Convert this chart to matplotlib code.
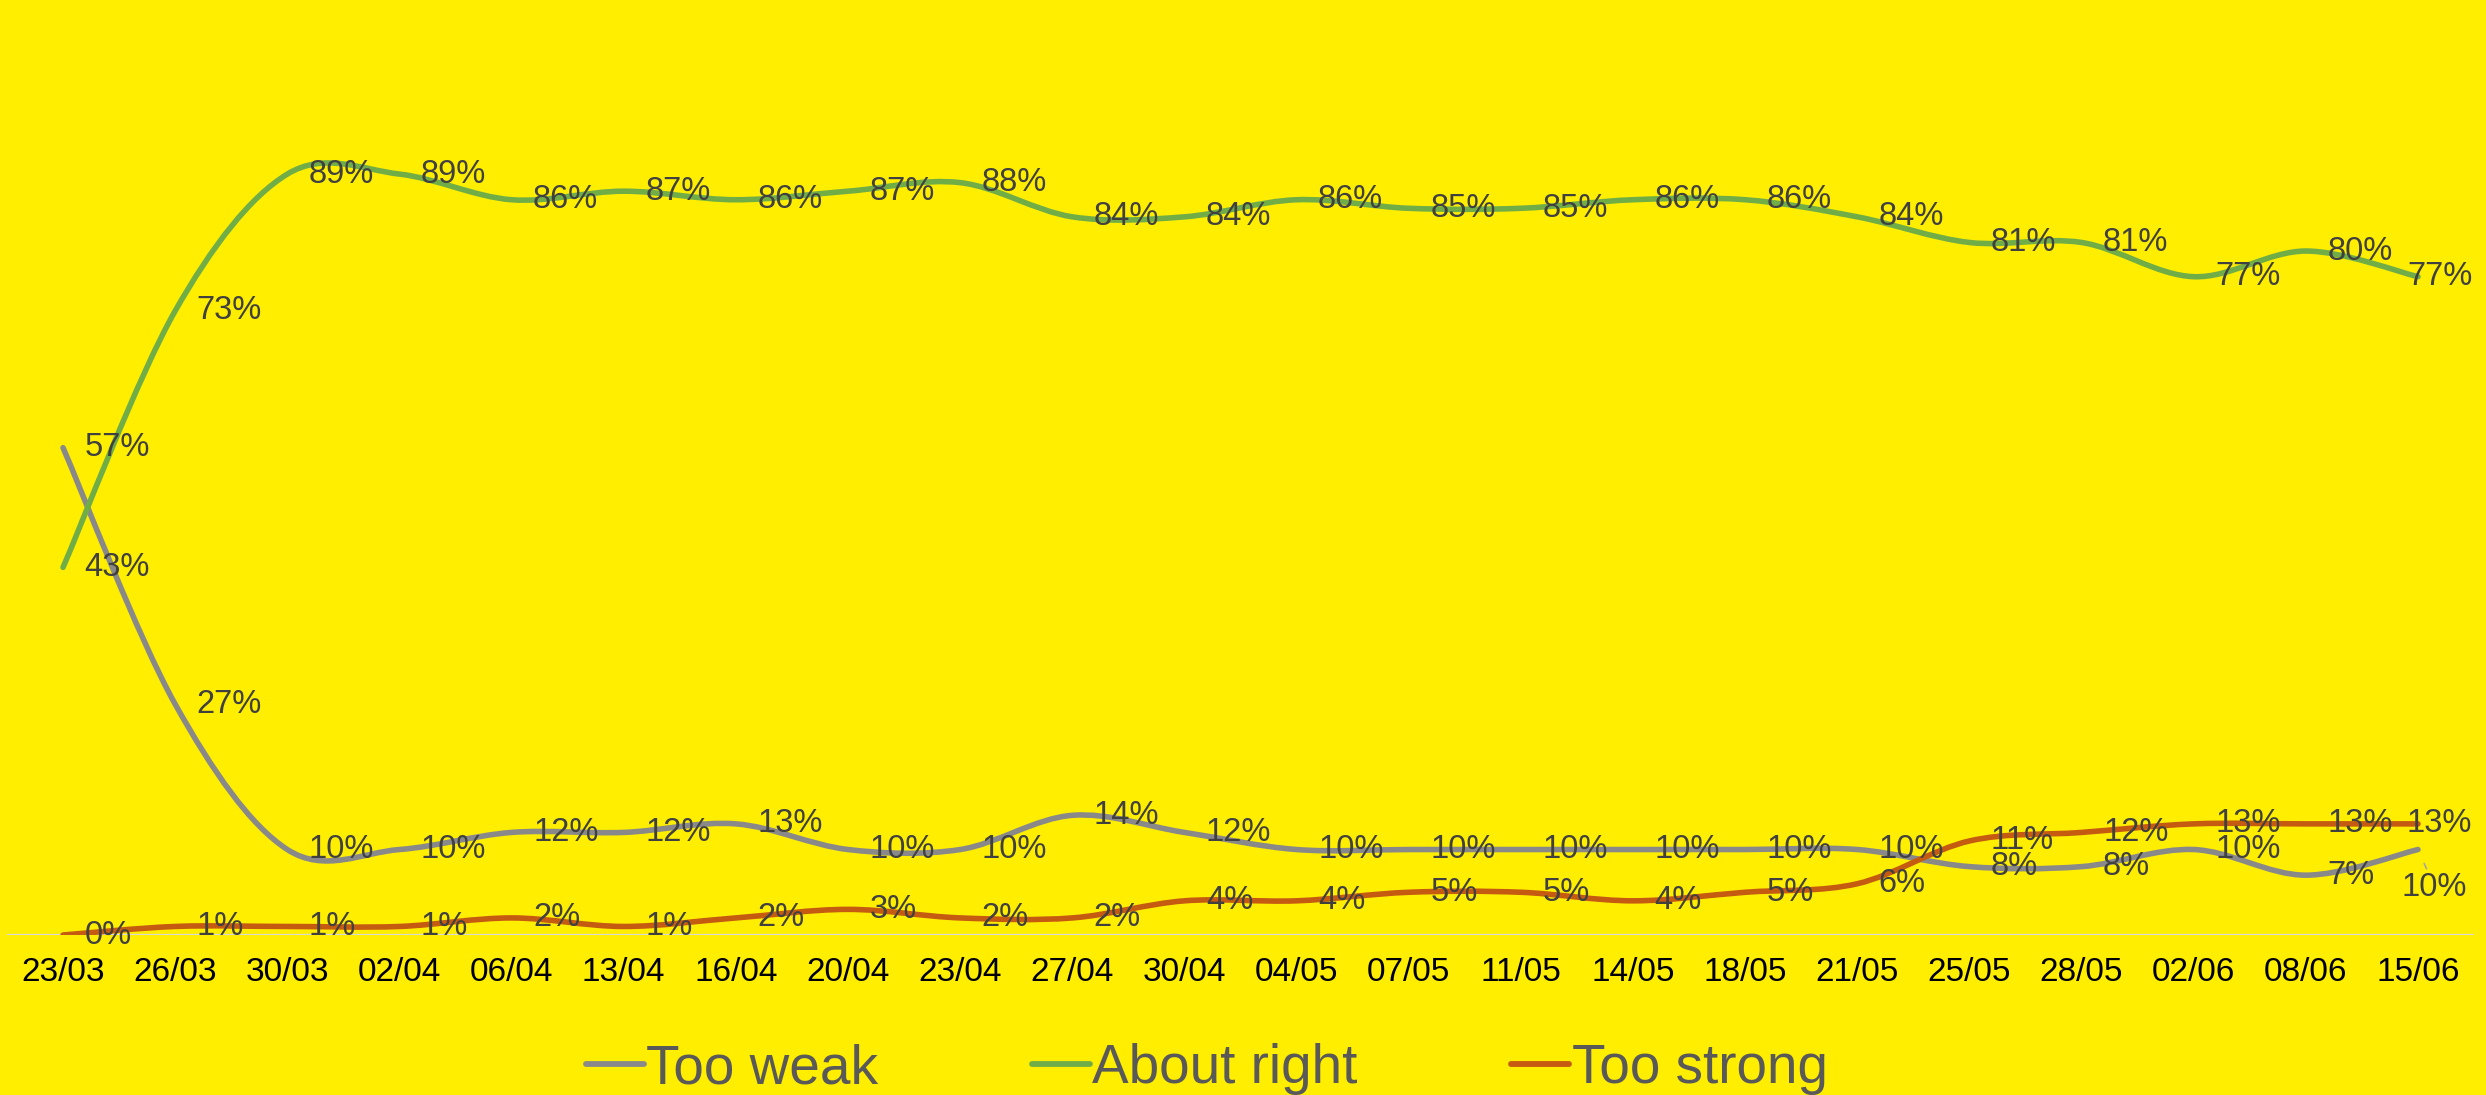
import matplotlib
matplotlib.use("Agg")
import matplotlib.pyplot as plt
from matplotlib.path import Path
from matplotlib.patches import PathPatch
from matplotlib.lines import Line2D

plt.rcParams['font.family'] = ['Liberation Sans', 'DejaVu Sans']

# data
dates = ["23/03", "26/03", "30/03", "02/04", "06/04", "13/04", "16/04", "20/04",
         "23/04", "27/04", "30/04", "04/05", "07/05", "11/05", "14/05", "18/05",
         "21/05", "25/05", "28/05", "02/06", "08/06", "15/06"]
too_weak = [57, 27, 10, 10, 12, 12, 13, 10, 10, 14, 12, 10, 10, 10, 10, 10, 10, 8, 8, 10, 7, 10]
about_right = [43, 73, 89, 89, 86, 87, 86, 87, 88, 84, 84, 86, 85, 85, 86, 86, 84, 81, 81, 77, 80, 77]
too_strong = [0, 1, 1, 1, 2, 1, 2, 3, 2, 2, 4, 4, 5, 5, 4, 5, 6, 11, 12, 13, 13, 13]

series_names = ["Too weak", "About right", "Too strong"]
series_values = [too_weak, about_right, too_strong]
colors = ["#898989", "#70AD47", "#C55A11"]

BG = "#FFEE00"
LABEL_COLOR = "#404040"


def smooth_path(ys):
    """Excel-like smoothed line: Catmull-Rom converted to cubic Bezier."""
    n = len(ys)
    pts = [(float(i), float(y)) for i, y in enumerate(ys)]
    verts = [pts[0]]
    codes = [Path.MOVETO]
    for i in range(n - 1):
        p0 = pts[i - 1] if i > 0 else pts[i]
        p1 = pts[i]
        p2 = pts[i + 1]
        p3 = pts[i + 2] if i + 2 < n else pts[i + 1]
        c1 = (p1[0] + (p2[0] - p0[0]) / 6, p1[1] + (p2[1] - p0[1]) / 6)
        c2 = (p2[0] - (p3[0] - p1[0]) / 6, p2[1] - (p3[1] - p1[1]) / 6)
        verts += [c1, c2, p2]
        codes += [Path.CURVE4] * 3
    return Path(verts, codes)


fig = plt.figure(figsize=(24.86, 10.95), dpi=100, facecolor=BG)
ax = fig.add_axes([0.0028, 0.1461, 0.9924, 0.7808])
ax.set_facecolor(BG)
ax.set_xlim(-0.5, len(dates) - 0.5)
ax.set_ylim(0, 100)

for s in ax.spines.values():
    s.set_visible(False)
ax.axhline(0, color="#D9D9D9", lw=1.6, zorder=1)

x = list(range(len(dates)))
handles = []
for name, vals, col in zip(series_names, series_values, colors):
    patch = PathPatch(smooth_path(vals), fill=False, edgecolor=col, lw=4,
                      capstyle='round', joinstyle='round', zorder=3)
    ax.add_patch(patch)
    handles.append(Line2D([], [], color=col, lw=4.2, solid_capstyle='round', label=name))

    last = len(vals) - 1
    for i, v in enumerate(vals):
        if i == last and name == "Too weak":
            ax.annotate(f"{v}%", xy=(i, v), xytext=(12, -27), textcoords="offset points",
                        ha='center', va='center', fontsize=23.5, color=LABEL_COLOR,
                        arrowprops=dict(arrowstyle='-', color='#A6A6A6', lw=1.2,
                                        shrinkA=0, shrinkB=11), zorder=4)
            continue
        dx = -8 if i == last else 15.5
        ax.annotate(f"{v}%", xy=(i, v), xytext=(dx, 0), textcoords="offset points",
                    ha='left', va='center', fontsize=23.5, color=LABEL_COLOR, zorder=4)

ax.set_xticks(x)
ax.set_xticklabels(dates, fontsize=24, color="black")
ax.tick_params(axis='x', length=0, pad=16)
ax.set_yticks([])

fig.legend(handles=handles, loc='center', bbox_to_anchor=(0.4855, 0.0235), ncol=3,
           frameon=False, fontsize=39.5, labelcolor='#595959', handlelength=1.05,
           handletextpad=0.05, columnspacing=2.8, borderaxespad=0, borderpad=0)

fig.savefig("out.png", dpi=100, facecolor=BG)
